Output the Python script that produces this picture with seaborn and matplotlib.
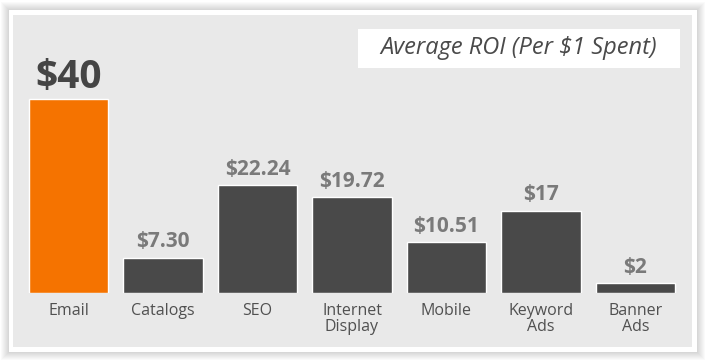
import matplotlib
matplotlib.use("Agg")
import matplotlib.pyplot as plt
from matplotlib.patches import Rectangle
import pandas as pd
import seaborn as sns

# data
channels = ["Email", "Catalogs", "SEO", "Internet\nDisplay", "Mobile", "Keyword\nAds", "Banner\nAds"]
roi = [40, 7.30, 22.24, 19.72, 10.51, 17, 2]
roi_labels = ["$40", "$7.30", "$22.24", "$19.72", "$10.51", "$17", "$2"]
chart_title = "Average ROI (Per $1 Spent)"

df = pd.DataFrame({"channel": channels, "roi": roi})

sns.set_style("white")
plt.rcParams["font.family"] = ["Open Sans", "DejaVu Sans"]

W, H = 705, 360
fig = plt.figure(figsize=(W / 100, H / 100), dpi=100)
fig.patch.set_facecolor("white")

def px_rect(x0, y0, x1, y1, **kw):
    # rectangle in pixel coords (origin top-left)
    return Rectangle((x0 / W, 1 - y1 / H), (x1 - x0) / W, (y1 - y0) / H,
                     transform=fig.transFigure, **kw)

# soft shadow round the card
for i in range(8, 0, -1):
    fig.patches.append(px_rect(9 - i, 10 - i, 697 + i, 352 + i,
                               facecolor="#000000", alpha=0.018, lw=0, zorder=0))
fig.patches.append(px_rect(9, 10, 697, 352, facecolor="white", lw=0, zorder=1))
fig.patches.append(px_rect(13, 15, 692, 347, facecolor="#e9e9e9", lw=0, zorder=2))

# axes: bar centres at 68.5 ... 635.5 px, baseline at 293 px
left, right = 21.25, 682.75
base, top = 293, 15
ax = fig.add_axes([left / W, 1 - base / H, (right - left) / W, (base - top) / H])
ax.set_facecolor("none")
ax.set_zorder(3)

palette = ["#f57300"] + ["#494949"] * (len(channels) - 1)
sns.barplot(data=df, x="channel", y="roi", hue="channel", palette=palette,
            legend=False, width=0.836, saturation=1, ax=ax)

scale = 194 / 40  # px per unit
ax.set_ylim(0, (base - top) / scale)
ax.set_xlim(-0.5, len(channels) - 0.5)

for i, (v, lab) in enumerate(zip(roi, roi_labels)):
    if i == 0:
        ax.annotate(lab, (i, v), xytext=(0, 8), textcoords="offset points",
                    ha="center", va="baseline", fontsize=28, fontweight="bold",
                    color="#454545")
    else:
        ax.annotate(lab, (i, v), xytext=(0, 7.5), textcoords="offset points",
                    ha="center", va="baseline", fontsize=15, fontweight="bold",
                    color="#7a7a7a")

ax.set_xticks(range(len(channels)))
ax.set_xticklabels(channels, fontsize=11.5, color="#505050", linespacing=1.05)
ax.tick_params(axis="x", length=0, pad=7)
ax.set_yticks([])
ax.set_xlabel("")
ax.set_ylabel("")
sns.despine(ax=ax, left=True, bottom=True)

# title box
fig.patches.append(px_rect(358, 29, 680, 68, facecolor="white", lw=0, zorder=3))
fig.text((358 + 680) / 2 / W, 1 - 48.5 / H, chart_title, ha="center", va="center",
         fontsize=17, style="italic", color="#4a4a4a", zorder=4)

fig.savefig("out.png", dpi=100)
